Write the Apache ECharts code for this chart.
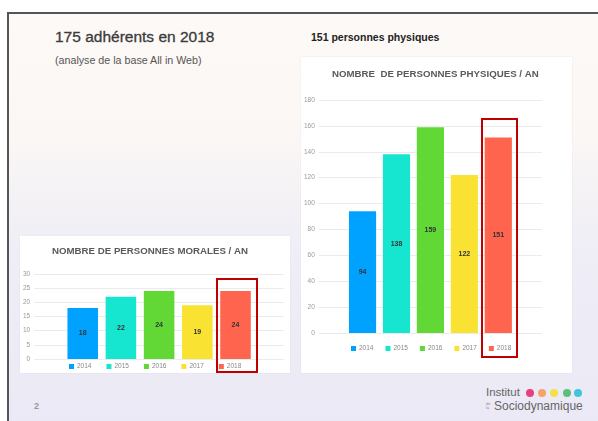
<!DOCTYPE html>
<html>
<head>
<meta charset="utf-8">
<script src="https://cdn.jsdelivr.net/npm/echarts@6.0.0/dist/echarts.min.js"></script>
<style>
  body { margin: 0; width: 598px; height: 421px; position: relative; overflow: hidden; background: #fff;
         font-family: 'Liberation Sans', Arial, sans-serif; }
  #slide { position: absolute; left: 7px; top: 12px; width: 591px; height: 409px;
           border-left: 2px solid #555; border-top: 2px solid #555;
           background: linear-gradient(#fdf9f6 0%, #fbf7f5 30%, #efedf6 58%, #ebe9f5 100%); }
  .txt { position: absolute; white-space: nowrap; }
  .panel { position: absolute; background: #fff; box-shadow: 0 0 1px #d8d6e0; }
  #chart-morales { left: 20px; top: 236px; width: 270px; height: 137px; }
  #chart-physiques { left: 301px; top: 57px; width: 271px; height: 316px; }
  .dot { position: absolute; width: 8px; height: 8px; border-radius: 50%; top: 389px; }
</style>
</head>
<body>
<div id="slide"></div>

<div class="txt" style="left:55px; top:28px; font-size:15.5px; color:#3a3a3a; -webkit-text-stroke:0.3px #3a3a3a;">175 adhérents en 2018</div>
<div class="txt" style="left:55px; top:54px; font-size:10.7px; color:#555;">(analyse de la base All in Web)</div>
<div class="txt" style="left:311px; top:31px; font-size:10.5px; font-weight:bold; color:#222;">151 personnes physiques</div>
<div class="txt" style="left:34px; top:401px; font-size:9px; font-weight:bold; color:#999;">2</div>

<div class="txt" style="left:486px; top:386px; font-size:11.5px; color:#666;">Institut</div>
<div class="txt" style="left:486px; top:402px; font-size:4px; line-height:4px; color:#888;">de<br>la</div>
<div class="txt" style="left:494px; top:399px; font-size:12px; color:#666;">Sociodynamique</div>
<div class="dot" style="left:526px; background:#e8407a;"></div>
<div class="dot" style="left:538px; background:#f5a36b;"></div>
<div class="dot" style="left:550px; background:#f4e04a;"></div>
<div class="dot" style="left:563px; background:#5dbf7a;"></div>
<div class="dot" style="left:574px; background:#3fc6d8;"></div>

<div id="chart-morales" class="panel"></div>
<div id="chart-physiques" class="panel"></div>

<script>
const years = ['2014', '2015', '2016', '2017', '2018'];
const yearColors = ['#00a2ff', '#16e5cf', '#61d836', '#fae232', '#ff644e'];
const moralesValues = [18, 22, 24, 19, 24];
const physiquesValues = [94, 138, 159, 122, 151];
const moralesAxis = [0, 30, 5];      // min, max, interval
const physiquesAxis = [0, 180, 20];

function build_series(values, categoryGap) {
    return years.map(function (year, i) {
        return {
            name: year,
            type: 'bar',
            data: [values[i]],
            barGap: '25%',
            barCategoryGap: categoryGap,
            itemStyle: { color: yearColors[i] },
            label: {
                show: true,
                position: 'inside',
                fontSize: 7,
                fontWeight: 'bold',
                color: '#333'
            },
            emphasis: { disabled: true }
        };
    });
}

function build_options(cfg) {
    return {
        animation: false,
        title: {
            text: cfg.title,
            left: cfg.titleLeft,
            top: cfg.titleTop,
            textStyle: { fontSize: 9.7, fontWeight: 'bold', color: '#5a5a5a', fontFamily: 'Liberation Sans' }
        },
        legend: {
            data: years,
            left: cfg.legendLeft,
            top: cfg.legendTop,
            icon: 'rect',
            itemWidth: 5,
            itemHeight: 5,
            itemGap: cfg.legendGap,
            textStyle: { fontSize: 6.5, color: '#888', padding: [0, 0, 0, -2] }
        },
        grid: cfg.grid,
        xAxis: {
            type: 'category',
            data: [''],
            axisLine: { show: false },
            axisTick: { show: false },
            axisLabel: { show: false }
        },
        yAxis: {
            type: 'value',
            min: cfg.axis[0],
            max: cfg.axis[1],
            interval: cfg.axis[2],
            axisLabel: { fontSize: 6.5, color: '#999', margin: cfg.labelMargin },
            splitLine: { lineStyle: { color: '#ebebeb', width: 1 } }
        },
        series: build_series(cfg.values, cfg.categoryGap),
        graphic: [{
            type: 'rect',
            shape: cfg.highlight,
            style: { fill: 'none', stroke: '#c00000', lineWidth: 2 },
            z: 100
        }]
    };
}

let echarts_morales = echarts.init(document.getElementById('chart-morales'));
echarts_morales.setOption(build_options({
    title: 'NOMBRE DE PERSONNES MORALES / AN',
    titleLeft: 27, titleTop: 5,
    legendLeft: 44, legendTop: 122, legendGap: 15,
    grid: { left: 12, right: 6, top: 38, bottom: 14 },
    axis: moralesAxis,
    labelMargin: 4,
    values: moralesValues,
    categoryGap: '26.6%',
    highlight: { x: 197, y: 43, width: 40, height: 93 }
}));

let echarts_physiques = echarts.init(document.getElementById('chart-physiques'));
echarts_physiques.setOption(build_options({
    title: 'NOMBRE  DE PERSONNES PHYSIQUES / AN',
    titleLeft: 26, titleTop: 7,
    legendLeft: 45, legendTop: 283, legendGap: 12,
    grid: { left: 14, right: 30, top: 43, bottom: 40 },
    axis: physiquesAxis,
    labelMargin: 4,
    values: physiquesValues,
    categoryGap: '27%',
    highlight: { x: 181, y: 62, width: 35, height: 238 }
}));
</script>
</body>
</html>
